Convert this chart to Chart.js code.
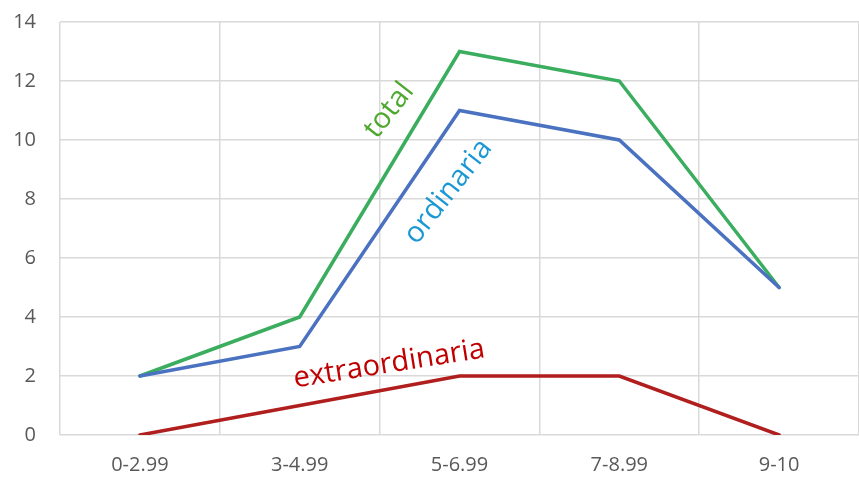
<!DOCTYPE html>
<html>
<head>
<meta charset="utf-8">
<script src="https://cdn.jsdelivr.net/npm/chart.js@4.4.1/dist/chart.umd.min.js"></script>
<style>
  html, body { margin: 0; padding: 0; background: #fff; }
  #box { width: 859px; height: 477px; }
</style>
</head>
<body>
<div id="box"><canvas id="chart"></canvas></div>
<script>
// score bands and counts per type
const bands = ['0-2.99', '3-4.99', '5-6.99', '7-8.99', '9-10'];
const total = [2, 4, 13, 12, 5];
const ordinaria = [2, 3, 11, 10, 5];
const extraordinaria = [0, 1, 2, 2, 0];

// inline series labels: text, colour, x (category index), y (value), angle in degrees
const seriesLabels = [
  { text: 'total', color: '#4ea72e', x: 1.56, y: 11.0, rot: -52 },
  { text: 'ordinaria', color: '#1b98d4', x: 1.93, y: 8.25, rot: -52 },
  { text: 'extraordinaria', color: '#c00000', x: 1.56, y: 2.4, rot: -9 },
];

const FONT = '"Open Sans", "Liberation Sans", sans-serif';

const labelPlugin = {
  id: 'lineLabels',
  afterDatasetsDraw(chart) {
    const ctx = chart.ctx;
    const xs = chart.scales.x, ys = chart.scales.y;
    ctx.save();
    ctx.font = '29px ' + FONT;
    ctx.textAlign = 'center';
    ctx.textBaseline = 'middle';
    seriesLabels.forEach(l => {
      const px = xs.getPixelForValue(0) + (xs.getPixelForValue(1) - xs.getPixelForValue(0)) * l.x;
      const py = ys.getPixelForValue(l.y);
      ctx.save();
      ctx.translate(px, py);
      ctx.rotate(l.rot * Math.PI / 180);
      ctx.fillStyle = l.color;
      ctx.fillText(l.text, 0, 0);
      ctx.restore();
    });
    ctx.restore();
  }
};

new Chart(document.getElementById('chart'), {
  type: 'line',
  data: {
    labels: bands,
    datasets: [
      { label: 'extraordinaria', data: extraordinaria, borderColor: '#b01e1e', borderWidth: 3.5 },
      { label: 'ordinaria', data: ordinaria, borderColor: '#4a72c0', borderWidth: 3.5 },
      { label: 'total', data: total, borderColor: '#3aad5e', borderWidth: 3.5 },
    ]
  },
  options: {
    responsive: true, maintainAspectRatio: false, animation: false,
    layout: { padding: { left: 0, top: 22, right: 0, bottom: 0 } },
    elements: { point: { radius: 0 }, line: { tension: 0, borderCapStyle: 'round', borderJoinStyle: 'miter' } },
    scales: {
      x: {
        offset: true,
        afterFit(s) { s.height = 42; },
        grid: { offset: true, color: '#d9d9d9', lineWidth: 1.5, drawTicks: false },
        border: { display: false },
        ticks: { color: '#595959', padding: 18, font: { size: 20, family: FONT } }
      },
      y: {
        min: 0, max: 14,
        afterFit(s) { s.width = 60; s.paddingTop = 0; s.paddingBottom = 0; },
        grid: { color: '#d9d9d9', lineWidth: 1.5, drawTicks: false },
        border: { display: false },
        ticks: { stepSize: 2, color: '#595959', padding: 24, font: { size: 20, family: FONT } }
      }
    },
    plugins: { legend: { display: false }, tooltip: { enabled: false } }
  },
  plugins: [labelPlugin]
});
</script>
</body>
</html>
